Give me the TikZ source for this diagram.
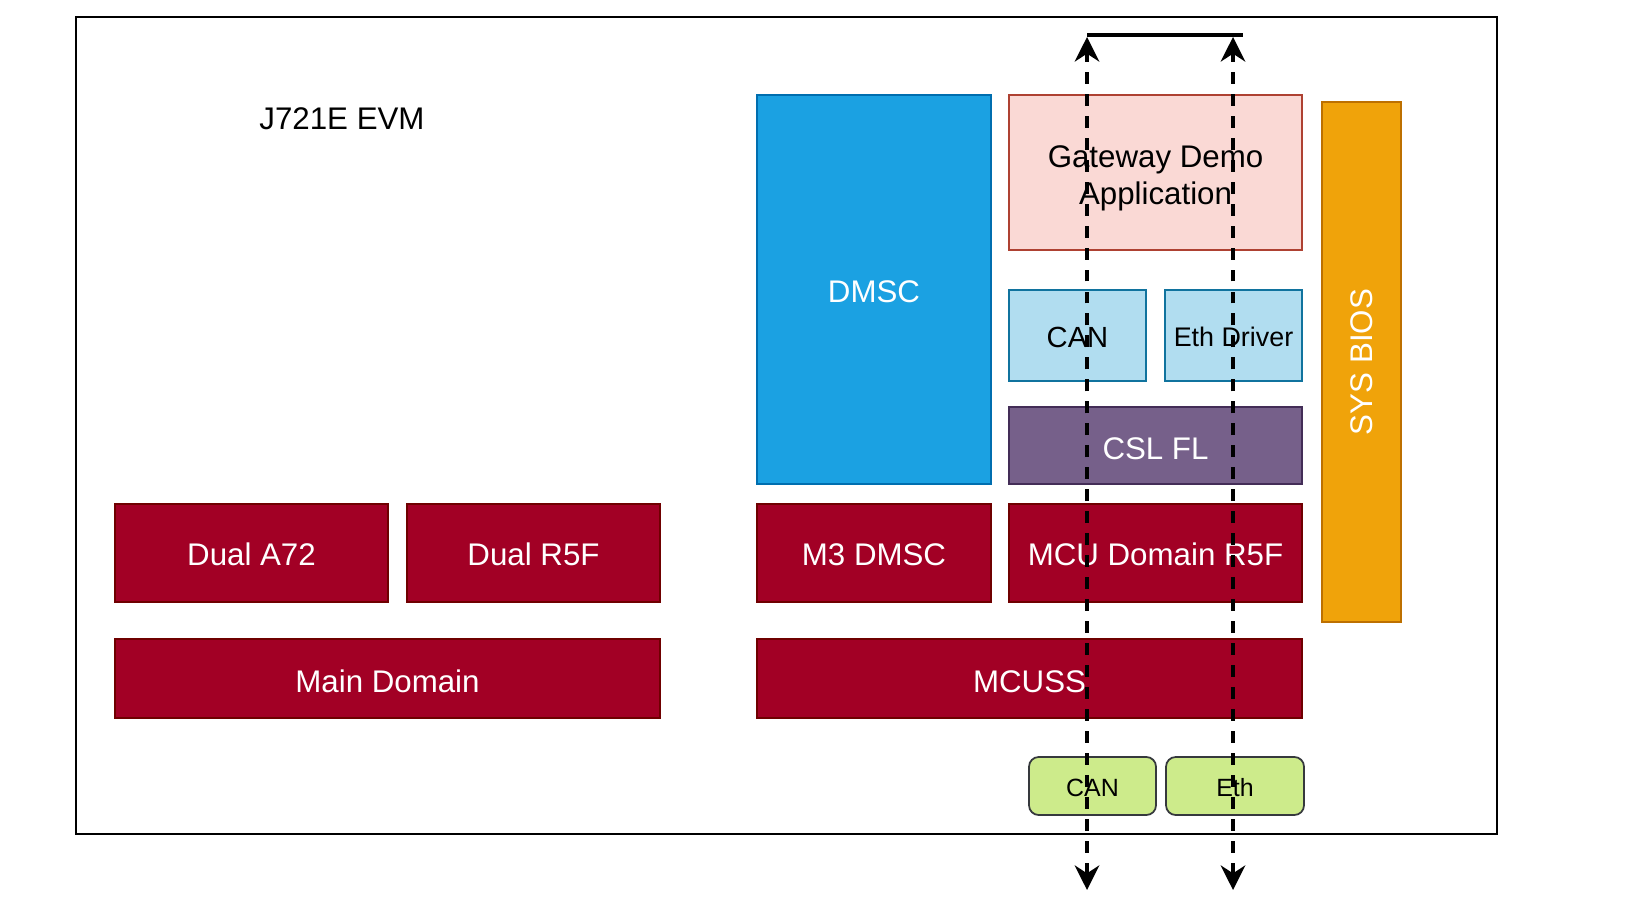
\documentclass[tikz,border=0pt]{standalone}
\usepackage{fontspec}
\setmainfont{Liberation Sans}
\usetikzlibrary{arrows.meta}
\definecolor{redF}{HTML}{A20025}
\definecolor{redS}{HTML}{6F0000}
\definecolor{blueF}{HTML}{1BA1E2}
\definecolor{blueS}{HTML}{006EAF}
\definecolor{pinkF}{HTML}{FAD9D5}
\definecolor{pinkS}{HTML}{AE4132}
\definecolor{lbF}{HTML}{B1DDF0}
\definecolor{lbS}{HTML}{10739E}
\definecolor{purF}{HTML}{76608A}
\definecolor{purS}{HTML}{432D57}
\definecolor{orF}{HTML}{F0A30A}
\definecolor{orS}{HTML}{BD7000}
\definecolor{grF}{HTML}{CDEB8B}
\definecolor{grS}{HTML}{36393D}
\tikzset{
  blk/.style={draw, line width=1pt, inner sep=0pt, outer sep=0pt, align=center,
    font=\fontsize{17.8}{21.5}\selectfont, text height=16pt, text depth=0pt},
  redbox/.style={blk, fill=redF, draw=redS, text=white},
  bluebox/.style={blk, fill=blueF, draw=blueS, text=white},
  pinkbox/.style={blk, fill=pinkF, draw=pinkS, text=black},
  lbbox/.style={blk, fill=lbF, draw=lbS, text=black},
  purbox/.style={blk, fill=purF, draw=purS, text=white},
  orbox/.style={blk, fill=orF, draw=orS, text=white},
  grbox/.style={blk, fill=grF, draw=grS, text=black, rounded corners=5.5pt,
    font=\fontsize{14.2}{17}\selectfont, text height=12.4pt},
  sz/.style 2 args={minimum width={#1*0.02cm}, minimum height={#2*0.02cm}},
  sigtip/.tip={Stealth[length=14pt,width=14pt,inset=4.5pt]},
  sig/.style={line width=1.9pt, dash pattern=on 6.8pt off 5.7pt, sigtip-sigtip},
}
\begin{document}
\begin{tikzpicture}[x=0.02cm,y=-0.02cm]
\useasboundingbox (0,0) rectangle (1635,912);
\node[draw, line width=1.1pt, inner sep=0pt, outer sep=0pt, sz={1421}{817}] (evm) at (786.5,425.5) {};
\node[font=\fontsize{17.8}{21.5}\selectfont] (title) at (342,119) {J721E EVM};

\node[bluebox, sz={234}{389}, text height=15pt] (dmsc) at (874,289.5) {DMSC};
\node[pinkbox, sz={293}{155}] (gw) at (1155.5,172.5) {};
\node[align=center, font=\fontsize{17.8}{21.5}\selectfont, yshift=-3.3pt] (gwt) at (gw.center) {Gateway Demo\\Application};
\node[lbbox, sz={137}{91}, font=\fontsize{16.6}{20}\selectfont, text height=13.4pt] (canl) at (1077.5,335.5) {CAN};
\node[lbbox, sz={137}{91}, font=\fontsize{15.3}{18}\selectfont, text height=12.5pt] (ethd) at (1233.5,335.5) {Eth Driver};
\node[purbox, sz={293}{77}] (csl) at (1155.5,445.5) {CSL FL};
\node[orbox, sz={79}{520}] (bios) at (1361.5,362) {};
\node[text=white, rotate=90, font=\fontsize{17.8}{21.5}\selectfont] (biost) at (bios.center) {SYS BIOS};

\node[redbox, sz={273}{98}, text height=14.4pt] (a72) at (251.5,553) {Dual A72};
\node[redbox, sz={253}{98}, text height=14.4pt] (r5f) at (533.5,553) {Dual R5F};
\node[redbox, sz={234}{98}, text height=14.4pt] (m3) at (874,553) {M3 DMSC};
\node[redbox, sz={293}{98}, text height=14.4pt] (mcur5) at (1155.5,553) {MCU Domain R5F};
\node[redbox, sz={545}{79}] (main) at (387.5,678.5) {Main Domain};
\node[redbox, sz={545}{79}] (mcuss) at (1029.5,678.5) {MCUSS};

\node[grbox, sz={127}{58}] (cang) at (1092.5,786) {CAN};
\node[grbox, sz={138}{58}] (ethg) at (1235,786) {Eth};

\coordinate (t1) at (1087,37);
\coordinate (t2) at (1233,37);
\coordinate (b1) at (1087,890);
\coordinate (b2) at (1233,890);
\coordinate (l1) at (1087,35);
\coordinate (l2) at (1243,35);
\draw[line width=1.9pt] (l1) -- (l2);
\draw[sig] (b1) -- (t1);
\draw[sig] (b2) -- (t2);
\end{tikzpicture}
\end{document}
